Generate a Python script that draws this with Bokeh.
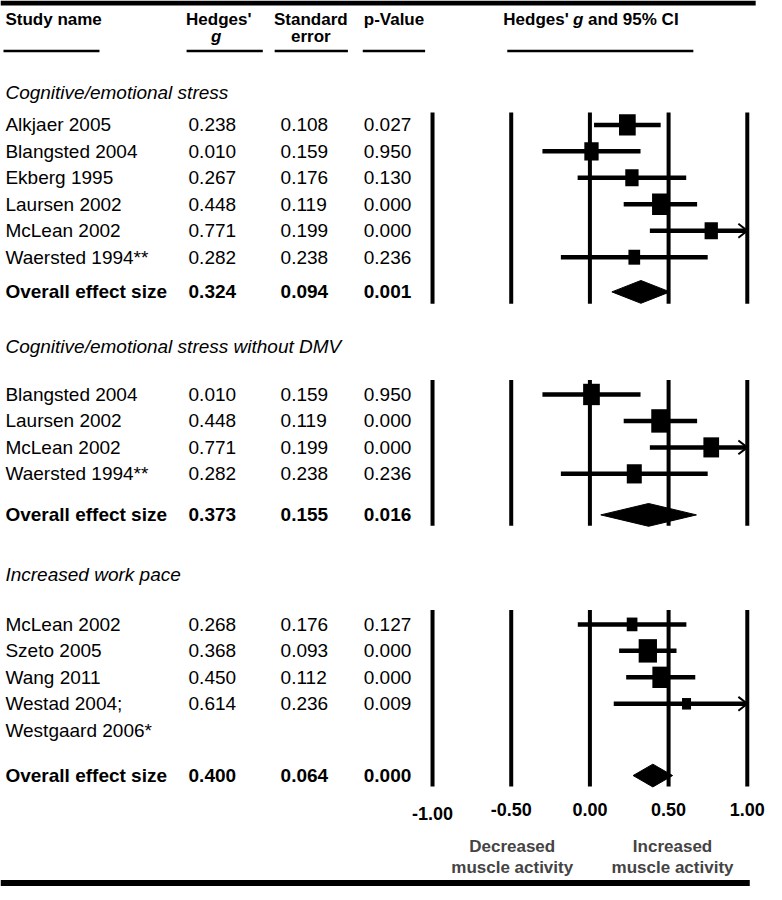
from bokeh.plotting import figure
from bokeh.models import Range1d
from bokeh.core.properties import value
from bokeh.embed import file_html
from bokeh.resources import INLINE

# ---------------- data ----------------
section_titles = ["Cognitive/emotional stress",
                  "Cognitive/emotional stress without DMV",
                  "Increased work pace"]

s1_names = ["Alkjaer 2005", "Blangsted 2004", "Ekberg 1995", "Laursen 2002",
            "McLean 2002", "Waersted 1994**"]
s1_g = [0.238, 0.010, 0.267, 0.448, 0.771, 0.282]
s1_se = [0.108, 0.159, 0.176, 0.119, 0.199, 0.238]
s1_p = [0.027, 0.950, 0.130, 0.000, 0.000, 0.236]
s1_overall = [0.324, 0.094, 0.001]

s2_names = ["Blangsted 2004", "Laursen 2002", "McLean 2002", "Waersted 1994**"]
s2_g = [0.010, 0.448, 0.771, 0.282]
s2_se = [0.159, 0.119, 0.199, 0.238]
s2_p = [0.950, 0.000, 0.000, 0.236]
s2_overall = [0.373, 0.155, 0.016]

s3_names = ["McLean 2002", "Szeto 2005", "Wang 2011",
            "Westad 2004;\nWestgaard 2006*"]
s3_g = [0.268, 0.368, 0.450, 0.614]
s3_se = [0.176, 0.093, 0.112, 0.236]
s3_p = [0.127, 0.000, 0.000, 0.009]
s3_overall = [0.400, 0.064, 0.000]

ticks = [-1.0, -0.5, 0.0, 0.5, 1.0]
tick_labels = ["%.2f" % t for t in ticks]

# ---------------- styles / layout ----------------
FONT = value("Liberation Sans")
X0_PX = 595.5        # pixel of g = 0
PX_PER_UNIT = 159.0  # pixels per unit of g


def px2x(px):
    return (px - X0_PX) / PX_PER_UNIT


box_w = [[16.7, 14.3, 13.3, 16.7, 13.3, 11.7],
         [16.7, 18.3, 15.7, 15.0],
         [10.7, 18.3, 16.7, 9.0]]
layout = [
    dict(title=93, top=113, bot=306, first=125.5, overall=294),
    dict(title=349, top=383, bot=530, first=397.5, overall=519),
    dict(title=579, top=615, bot=793, first=629.5, overall=782),
]
STEP = 26.7
COL_NAME, COL_G, COL_SE, COL_P = 5, 190, 283, 367

sections = [
    (section_titles[0], s1_names, s1_g, s1_se, s1_p, s1_overall),
    (section_titles[1], s2_names, s2_g, s2_se, s2_p, s2_overall),
    (section_titles[2], s3_names, s3_g, s3_se, s3_p, s3_overall),
]

p = figure(width=774, height=892, output_backend="svg", toolbar_location=None,
           x_range=Range1d(px2x(0), px2x(782)), y_range=Range1d(900, 0),
           x_axis_type=None, y_axis_type=None, min_border=0,
           outline_line_color=None)
p.grid.visible = False


def txt(x, y, s, size="19px", style="normal", align="left", color="black"):
    p.text(x=[x], y=[y], text=[s], text_font=FONT, text_font_size=size,
           text_font_style=style, text_align=align, text_baseline="middle",
           text_color=color)


# top & bottom rules
p.segment(x0=[px2x(0)], y0=[2.5], x1=[px2x(763)], y1=[2.5],
          line_width=5, line_color="black")
p.segment(x0=[px2x(0)], y0=[890.5], x1=[px2x(757)], y1=[890.5],
          line_width=6, line_color="black")

# header
HS = "17px"
txt(px2x(COL_NAME), 19, "Study name", HS, "bold")
txt(px2x(220.5), 19, "Hedges'", HS, "bold", "center")
txt(px2x(218), 36, "g", HS, "bold italic", "center")
txt(px2x(313.5), 19, "Standard", HS, "bold", "center")
txt(px2x(313.5), 36, "error", HS, "bold", "center")
txt(px2x(367), 19, "p-Value", HS, "bold")
txt(px2x(508), 19, "Hedges'", HS, "bold")
txt(px2x(578.5), 19, "g", HS, "bold italic")
txt(px2x(593.5), 19, "and 95% CI", HS, "bold")
ul = [(3, 100), (188, 265), (277, 351), (366, 429), (512, 700)]
p.segment(x0=[px2x(a) for a, b in ul], x1=[px2x(b) for a, b in ul],
          y0=[51] * len(ul), y1=[51] * len(ul), line_width=2.5, line_color="black")

for k, (title, names, g, se, pv, overall) in enumerate(sections):
    L = layout[k]
    txt(px2x(COL_NAME), L["title"], title, "19px", "italic")
    # vertical reference lines
    p.segment(x0=ticks, x1=ticks, y0=[L["top"]] * len(ticks),
              y1=[L["bot"]] * len(ticks), line_width=4, line_color="black")
    ys = [L["first"] + i * STEP for i in range(len(names))]
    for i, name in enumerate(names):
        parts = name.split("\n")
        for j, part in enumerate(parts):
            txt(px2x(COL_NAME), ys[i] + j * STEP, part)
        txt(px2x(COL_G), ys[i], "%.3f" % g[i])
        txt(px2x(COL_SE), ys[i], "%.3f" % se[i])
        txt(px2x(COL_P), ys[i], "%.3f" % pv[i])
    lo = [gi - 1.96 * s for gi, s in zip(g, se)]
    hi = [gi + 1.96 * s for gi, s in zip(g, se)]
    hi_c = [min(h, ticks[-1]) for h in hi]
    p.segment(x0=lo, x1=hi_c, y0=ys, y1=ys, line_width=4.5, line_color="black")
    # open arrowheads where the CI runs past the axis end
    for h, hc, y in zip(hi, hi_c, ys):
        if h > hc:
            d = 9 / PX_PER_UNIT
            p.multi_line(xs=[[hc - d, hc, hc - d]], ys=[[y - 7, y, y + 7]],
                         line_width=2, line_color="black")
    bw = box_w[k]
    p.rect(x=g, y=ys, width=bw, height=[w * 1.28 for w in bw],
           width_units="screen", height_units="screen",
           fill_color="black", line_color=None)
    # overall effect
    og, ose, op = overall
    oy = L["overall"]
    txt(px2x(COL_NAME), oy, "Overall effect size", "19px", "bold")
    txt(px2x(COL_G), oy, "%.3f" % og, "19px", "bold")
    txt(px2x(COL_SE), oy, "%.3f" % ose, "19px", "bold")
    txt(px2x(COL_P), oy, "%.3f" % op, "19px", "bold")
    olo, ohi = og - 1.96 * ose, og + 1.96 * ose
    hd = 11.5
    p.patches(xs=[[olo, og, ohi, og]], ys=[[oy, oy - hd, oy, oy + hd]],
              fill_color="black", line_color="black", line_width=1)

# tick labels
tick_y = [820, 816, 816, 816, 816]
p.text(x=ticks, y=tick_y, text=tick_labels, text_font=FONT,
       text_font_size="18px", text_font_style="bold", text_align="center",
       text_baseline="middle", text_color="black")

# direction labels
GREY = "#444444"
txt(px2x(517), 854, "Decreased", "17px", "bold", "center", GREY)
txt(px2x(517), 875, "muscle activity", "17px", "bold", "center", GREY)
txt(px2x(679), 854, "Increased", "17px", "bold", "center", GREY)
txt(px2x(679), 875, "muscle activity", "17px", "bold", "center", GREY)

open("out.html", "w").write(file_html(p, INLINE))
